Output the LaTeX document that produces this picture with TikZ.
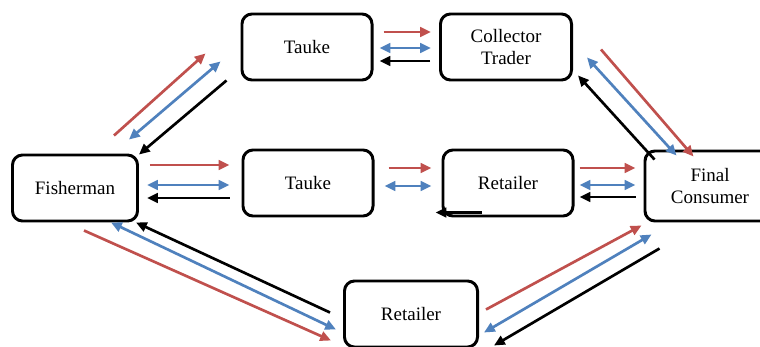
\documentclass[tikz,border=0pt]{standalone}
\usepackage{fontspec}
\setmainfont{Liberation Serif}
\usetikzlibrary{arrows.meta}
\definecolor{flowred}{RGB}{192,80,77}
\definecolor{flowblue}{RGB}{79,129,189}
\tikzset{
    box/.style={draw, line width=2.1pt, rounded corners=0.25cm, minimum width=3.25cm, minimum height=1.65cm,
        align=center, font=\fontsize{13.5}{15}\selectfont},
    redarr/.style={flowred, line width=1.9pt, -{Triangle[length=0.27cm, width=0.24cm]}},
    bluearr/.style={flowblue, line width=1.9pt, {Triangle[length=0.27cm, width=0.24cm]}-{Triangle[length=0.27cm, width=0.24cm]}},
    blackarr/.style={black, line width=1.9pt, -{Triangle[length=0.27cm, width=0.24cm]}}
}
\begin{document}
\begin{tikzpicture}[x=0.025cm, y=-0.025cm]
        \useasboundingbox (0,0) rectangle (760,347);
        \clip (0,0) rectangle (760,347);
        \fill[white] (0,0) rectangle (760,347);
        % actors
        \node[box] (tauke1) at (307,47) {Tauke};
        \node[box, minimum width=3.275cm] (coll) at (506,47) {Collector\\Trader};
        \node[box, minimum width=3.125cm] (fish) at (75,188) {Fisherman};
        \node[box] (tauke2) at (308,183) {Tauke};
        \node[box] (ret1) at (508,183) {Retailer};
        \node[box, minimum height=1.75cm] (final) at (710,186) {Final\\Consumer};
        \node[box, minimum width=3.325cm] (ret2) at (411,314) {Retailer};
        % top row
        \draw[redarr] ([shift={(10,-15)}]tauke1.east) -- ([shift={(-8,-15)}]coll.west);
        \draw[bluearr] ([shift={(6,1)}]tauke1.east) -- ([shift={(-8,1)}]coll.west);
        \draw[blackarr] ([shift={(-9,14)}]coll.west) -- ([shift={(6,14)}]tauke1.east);
        % middle row
        \draw[redarr] ([shift={(11,-23)}]fish.east) -- ([shift={(-12,-18)}]tauke2.west);
        \draw[bluearr] ([shift={(8,-3)}]fish.east) -- ([shift={(-12,2)}]tauke2.west);
        \draw[blackarr] ([shift={(-12,15)}]tauke2.west) -- ([shift={(8,10)}]fish.east);
        \draw[redarr] ([shift={(14,-15)}]tauke2.east) -- ([shift={(-10,-15)}]ret1.west);
        \draw[bluearr] ([shift={(10,3)}]tauke2.east) -- ([shift={(-10,3)}]ret1.west);
        \draw[blackarr] ([shift={(-26,-5)}]ret1.south) -- ([shift={(-6,-5)}]ret1.south west);
        \draw[redarr] ([shift={(5,-15)}]ret1.east) -- ([shift={(-8,-18)}]final.west);
        \draw[bluearr] ([shift={(5,2)}]ret1.east) -- ([shift={(-8,-1)}]final.west);
        \draw[blackarr] ([shift={(-8,11)}]final.west) -- ([shift={(5,14)}]ret1.east);
        % upper diagonals
        \draw[redarr] ([shift={(-25,-18)}]fish.north east) -- ([shift={(-35,-28)}]tauke1.south west);
        \draw[bluearr] ([shift={(-10,-14)}]fish.north east) -- ([shift={(-20,-20)}]tauke1.south west);
        \draw[blackarr] ([shift={(-14,-1)}]tauke1.south west) -- ([shift={(0,1)}]fish.north east);
        \draw[blackarr] ([shift={(11,10)}]final.north west) -- ([shift={(5,-6)}]coll.south east);
        \draw[bluearr] ([shift={(14,-24)}]coll.south east) -- ([shift={(33,6)}]final.north west);
        \draw[redarr] ([shift={(28,-32)}]coll.south east) -- ([shift={(50,7)}]final.north west);
        % lower diagonals
        \draw[blackarr] ([shift={(-13,33)}]ret2.north west) -- ([shift={(-3,0)}]fish.south east);
        \draw[bluearr] ([shift={(-28,0)}]fish.south east) -- ([shift={(-7,50)}]ret2.north west);
        \draw[redarr] ([shift={(-55,8)}]fish.south east) -- ([shift={(-12,61)}]ret2.north west);
        \draw[redarr] ([shift={(7,30)}]ret2.north east) -- ([shift={(-2,3)}]final.south west);
        \draw[bluearr] ([shift={(5,53)}]ret2.north east) -- ([shift={(8,12)}]final.south west);
        \draw[blackarr] ([shift={(16,26)}]final.south west) -- ([shift={(15,66)}]ret2.north east);
    \end{tikzpicture}
\end{document}
